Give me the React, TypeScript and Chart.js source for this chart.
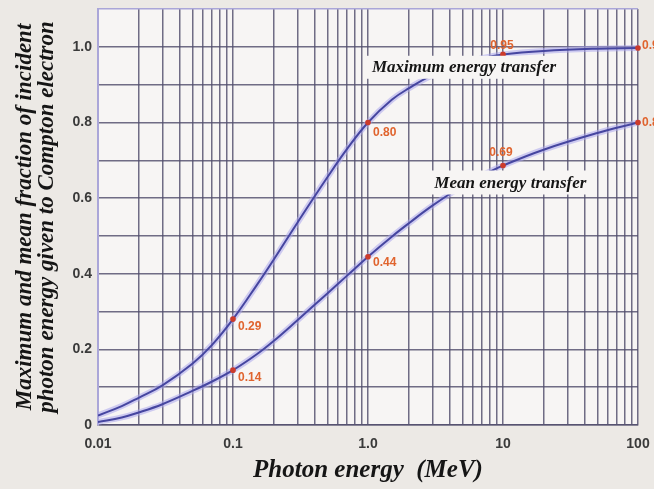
import React, { useEffect, useRef } from 'react';
import { Chart, registerables } from 'chart.js';

Chart.register(...registerables);

// ---- data ----
const energies = [0.01, 0.015, 0.02, 0.03, 0.05, 0.07, 0.1, 0.15, 0.2, 0.3, 0.5, 0.7, 1, 1.5, 2, 3, 5, 7, 10, 20, 50, 100];
const maxFraction = [0.025, 0.05, 0.072, 0.105, 0.162, 0.212, 0.28, 0.37, 0.437, 0.535, 0.655, 0.73, 0.8, 0.86, 0.89, 0.925, 0.955, 0.97, 0.98, 0.989, 0.995, 0.997];
const meanFraction = [0.008, 0.02, 0.033, 0.055, 0.09, 0.115, 0.145, 0.187, 0.222, 0.277, 0.348, 0.395, 0.445, 0.498, 0.533, 0.58, 0.632, 0.66, 0.686, 0.728, 0.772, 0.8];

const markerEnergies = [0.1, 1, 10, 100];
const maxMarkers = [0.28, 0.8, 0.98, 0.997];
const meanMarkers = [0.145, 0.445, 0.686, 0.8];
const maxMarkerLabels = ['0.29', '0.80', '0.95', '0.99'];
const meanMarkerLabels = ['0.14', '0.44', '0.69', '0.80'];

const curveNames = ['Maximum energy transfer', 'Mean energy transfer'];

const xTickValues = [0.01, 0.1, 1, 10, 100];
const xTickLabels = ['0.01', '0.1', '1.0', '10', '100'];
const yTickValues = [0, 0.2, 0.4, 0.6, 0.8, 1.0];
const yTickLabels = ['0', '0.2', '0.4', '0.6', '0.8', '1.0'];
const yGridValues = [0, 0.1, 0.2, 0.3, 0.4, 0.5, 0.6, 0.7, 0.8, 0.9, 1.0, 1.1];
const xDecades = [0.01, 0.1, 1, 10];
const xGridValues: number[] = [];
xDecades.forEach((d) => {
  for (let m = 1; m <= 9; m++) xGridValues.push(+(d * m).toPrecision(3));
});
xGridValues.push(100);

const xTitle = 'Photon energy  (MeV)';
const yTitle = ['Maximum and mean fraction of incident', 'photon energy given to Compton electron'];

// ---- styles / placement ----
const pageBg = '#ece9e5';
const plotBg = '#f7f5f4';
const gridColor = 'rgba(82,78,108,0.82)';
const curveColor = '#4646a0';
const haloColor = 'rgba(172,166,236,0.55)';
const markerColor = '#cc3b2b';
const valueColor = '#e0642e';
const tickFont = { family: '"Liberation Sans", Arial, sans-serif', size: 14, weight: 'bold' as const };
const serifFamily = '"Liberation Serif", "Times New Roman", serif';

// curve-name boxes: anchor (energy, fraction) = left/baseline of the text
const namePlacement = [
  { e: 1.07, v: 0.934, padL: 6, padR: 6, padT: 16, padB: 7 },
  { e: 3.1, v: 0.628, padL: 5, padR: 5, padT: 17, padB: 7 },
];
// value-label offsets [dx, dy, align]
const maxOffsets: [number, number, CanvasTextAlign][] = [[5, 8, 'left'], [5, 10, 'left'], [-1, -9, 'center'], [4, -2, 'left']];
const meanOffsets: [number, number, CanvasTextAlign][] = [[5, 8, 'left'], [5, 6, 'left'], [-2, -13, 'center'], [4, 0, 'left']];

const lookup = (vals: number[], labels: string[], v: number) => {
  const i = vals.findIndex((t) => Math.abs(t - v) < 1e-6 * Math.max(1, Math.abs(t)));
  return i >= 0 ? labels[i] : '';
};

const decorPlugin = {
  id: 'decor',
  beforeDraw(chart: any) {
    const { ctx, chartArea: a } = chart;
    ctx.save();
    ctx.fillStyle = pageBg;
    ctx.fillRect(0, 0, chart.width, chart.height);
    ctx.fillStyle = plotBg;
    ctx.fillRect(a.left, a.top, a.right - a.left, a.bottom - a.top);
    ctx.restore();
  },
  afterDatasetsDraw(chart: any) {
    const { ctx } = chart;
    const xs = chart.scales.x;
    const ys = chart.scales.y;
    ctx.save();
    ctx.font = `italic bold 17px ${serifFamily}`;
    ctx.textBaseline = 'alphabetic';
    ctx.textAlign = 'left';
    curveNames.forEach((name, i) => {
      const p = namePlacement[i];
      const x = xs.getPixelForValue(p.e);
      const y = ys.getPixelForValue(p.v);
      const w = ctx.measureText(name).width;
      ctx.fillStyle = plotBg;
      ctx.fillRect(x - p.padL, y - p.padT, w + p.padL + p.padR, p.padT + p.padB);
      ctx.fillStyle = '#151515';
      ctx.fillText(name, x, y);
    });
    ctx.font = 'bold 12px "Liberation Sans", Arial, sans-serif';
    ctx.textBaseline = 'middle';
    ctx.fillStyle = valueColor;
    const drawLabels = (dsIndex: number, texts: string[], offs: [number, number, CanvasTextAlign][]) => {
      const meta = chart.getDatasetMeta(dsIndex);
      meta.data.forEach((pt: any, i: number) => {
        const [dx, dy, al] = offs[i];
        ctx.textAlign = al;
        ctx.fillText(texts[i], pt.x + dx, pt.y + dy);
      });
    };
    drawLabels(0, maxMarkerLabels, maxOffsets);
    drawLabels(1, meanMarkerLabels, meanOffsets);
    ctx.restore();
  },
};

export default function App() {
  const ref = useRef<HTMLCanvasElement>(null);
  useEffect(() => {
    document.body.style.margin = '0';
    document.body.style.background = pageBg;
    const toPts = (xv: number[], yv: number[]) => xv.map((x, i) => ({ x, y: yv[i] }));
    const curve = (data: any, color: string, width: number, order: number) => ({
      data,
      borderColor: color,
      borderWidth: width,
      pointRadius: 0,
      tension: 0.4,
      fill: false,
      order,
    });
    const markers = (data: any) =>
      ({
        data,
        showLine: false,
        pointRadius: 2.8,
        pointBackgroundColor: markerColor,
        pointBorderWidth: 0,
        order: 0,
        clip: false,
      }) as any;
    const chart = new Chart(ref.current as HTMLCanvasElement, {
      type: 'line',
      data: {
        datasets: [
          { label: 'max markers', ...markers(toPts(markerEnergies, maxMarkers)) },
          { label: 'mean markers', ...markers(toPts(markerEnergies, meanMarkers)) },
          { label: 'Maximum', ...curve(toPts(energies, maxFraction), curveColor, 2, 1) },
          { label: 'Mean', ...curve(toPts(energies, meanFraction), curveColor, 2, 1) },
          { label: 'Maximum halo', ...curve(toPts(energies, maxFraction), haloColor, 6, 2) },
          { label: 'Mean halo', ...curve(toPts(energies, meanFraction), haloColor, 6, 2) },
        ] as any,
      },
      options: {
        responsive: false,
        animation: false,
        devicePixelRatio: 1,
        layout: { padding: { top: 9, right: 16, left: 0, bottom: 0 } },
        plugins: { legend: { display: false }, tooltip: { enabled: false } },
        scales: {
          x: {
            type: 'logarithmic',
            min: 0.01,
            max: 100,
            afterBuildTicks: (s: any) => {
              s.ticks = xGridValues.map((v) => ({ value: v }));
            },
            afterFit: (s: any) => {
              s.height = 64;
              s.paddingLeft = 0;
              s.paddingRight = 0;
            },
            ticks: {
              autoSkip: false,
              maxRotation: 0,
              minRotation: 0,
              padding: 11,
              color: '#3a3a3a',
              font: tickFont,
              callback: (v: any) => lookup(xTickValues, xTickLabels, Number(v)),
            },
            grid: { color: gridColor, lineWidth: 1.5, drawTicks: false },
            border: { display: true, color: gridColor, width: 1.5 },
            title: {
              display: true,
              text: xTitle,
              color: '#151515',
              font: { family: serifFamily, size: 25, weight: 'bold', style: 'italic' },
              padding: { top: 0, bottom: 3 },
            },
          } as any,
          y: {
            type: 'linear',
            min: 0,
            max: 1.1,
            afterBuildTicks: (s: any) => {
              s.ticks = yGridValues.map((v) => ({ value: v }));
            },
            afterFit: (s: any) => {
              s.width = 98;
              s.paddingTop = 0;
              s.paddingBottom = 0;
            },
            ticks: {
              autoSkip: false,
              padding: 6,
              color: '#3a3a3a',
              font: tickFont,
              callback: (v: any) => lookup(yTickValues, yTickLabels, Number(v)),
            },
            grid: {
              color: (c: any) => (c.tick && Math.abs(c.tick.value - 1.1) < 1e-6 ? '#aaa6d8' : gridColor),
              lineWidth: 1.5,
              drawTicks: false,
            },
            border: { display: true, color: '#aaa6d8', width: 2 },
            title: {
              display: true,
              text: yTitle,
              color: '#151515',
              font: { family: serifFamily, size: 23, weight: 'bold', style: 'italic', lineHeight: '22px' },
              padding: { top: 14, bottom: 0 },
            },
          } as any,
        },
      },
      plugins: [decorPlugin],
    });
    return () => chart.destroy();
  }, []);
  return (
    <div style={{ width: 654, height: 489 }}>
      <canvas ref={ref} width={654} height={489} style={{ display: 'block', width: 654, height: 489 }} />
    </div>
  );
}
